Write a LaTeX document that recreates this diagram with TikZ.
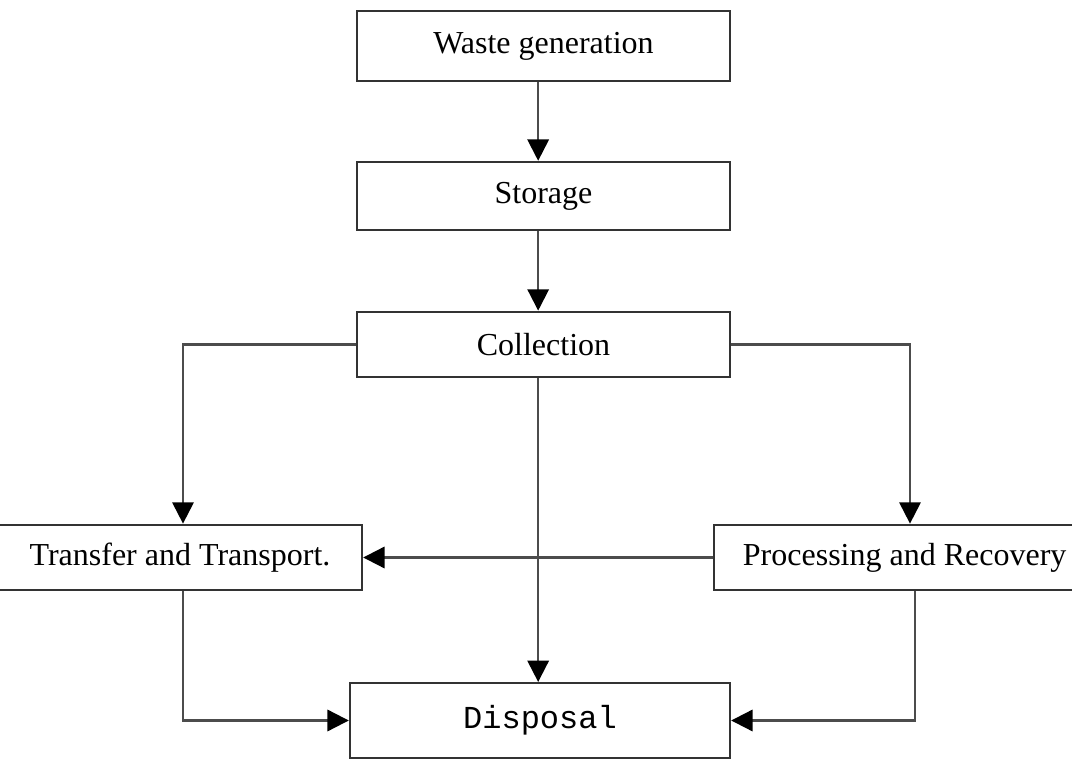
\documentclass[tikz,border=0pt]{standalone}
\usepackage{fontspec}
\setmainfont{Liberation Serif}
\newfontfamily\monofam{Liberation Mono}
\usetikzlibrary{arrows.meta}
\begin{document}
\begin{tikzpicture}[x=0.75pt,y=-0.75pt,
  box/.style={draw=black!80, line width=1.8pt, fill=white, inner sep=0pt,
    font=\fontsize{24}{28}\selectfont},
  conn/.style={draw=black!70, line width=1.6pt,
    -{Triangle[length=16pt,width=16pt,fill=black,color=black]}}]
\useasboundingbox (0,0) rectangle (1072,762);
\clip (0,0) rectangle (1072,762);
\fill[white] (0,0) rectangle (1072,762);
\node[box, minimum width=280pt, minimum height=52.5pt] (WG) at (543.5,46) {Waste generation};
\node[box, minimum width=280pt, minimum height=51pt] (ST) at (543.5,196) {Storage};
\node[box, minimum width=280pt, minimum height=49pt] (CO) at (543.5,344.5) {Collection};
\node[box, minimum width=279pt, minimum height=49pt] (TT) at (176,557.5) {\hspace*{6pt}Transfer and Transport.};
\node[box, minimum width=294pt, minimum height=49pt] (PR) at (910,557.5) {\hspace*{-3pt}Processing and Recovery\hspace*{5pt}};
\node[box, minimum width=285pt, minimum height=56pt] (DI) at (540,720.5) {\monofam Disposal};
\draw[conn] ([xshift=-4pt]WG.south) -- ([xshift=-4pt]ST.north);
\draw[conn] ([xshift=-4pt]ST.south) -- ([xshift=-4pt]CO.north);
\draw[conn] (CO.west) -| ([xshift=5.25pt]TT.north);
\draw[conn] (CO.east) -| (PR.north);
\draw[conn] ([xshift=-4pt]CO.south) -- ([xshift=-4pt]CO.south |- DI.north);
\draw[conn] (PR.west) -- (TT.east);
\draw[conn] ([xshift=5.25pt]TT.south) |- (DI.west);
\draw[conn] ([xshift=3.75pt]PR.south) |- (DI.east);
\end{tikzpicture}
\end{document}
